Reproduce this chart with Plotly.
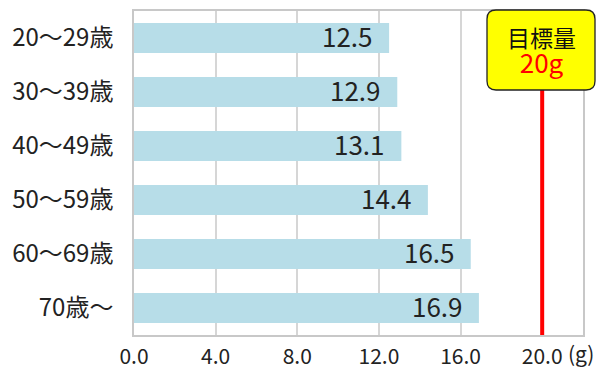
import plotly.graph_objects as go

# Daily salt intake by age group (g)
age_groups = ["20～29歳", "30～39歳", "40～49歳", "50～59歳", "60～69歳", "70歳～"]
intake = [12.5, 12.9, 13.1, 14.4, 16.5, 16.9]
x_ticks = [0, 4, 8, 12, 16, 20]
x_tick_labels = ["0.0", "4.0", "8.0", "12.0", "16.0", "20.0"]
target = 20
target_title = "目標量"
target_label = f"{target}g"
x_max = 22

W, H = 610, 369
M_L, M_R, M_T, M_B = 134, 27, 11, 34
PW, PH = W - M_L - M_R, H - M_T - M_B

JP = "Noto Sans CJK JP"
BAR = "#b7dde8"
GRID = "#d6d6d6"


def px_x(px):
    return (px - M_L) / PW


def px_y(py):
    return (H - M_B - py) / PH


fig = go.Figure()
fig.add_trace(go.Bar(
    y=age_groups, x=intake, orientation="h",
    marker=dict(color=BAR, line=dict(width=0)),
    width=0.56, hoverinfo="skip",
))

# value labels, right-aligned inside each bar
annotations = []
for g, v in zip(age_groups, intake):
    annotations.append(dict(
        x=v, y=g, xref="x", yref="y", text=f"{v:.1f}", showarrow=False,
        xanchor="right", yanchor="middle", xshift=-14, yshift=3,
        font=dict(family=JP, size=26, color="#222222"),
    ))

# rounded callout box for the target value
bx0, bx1 = 487, 595
by0, by1 = 10, 90
r = 9
rx, ry = r / PW, r / PH
x0, x1 = px_x(bx0), px_x(bx1)
y0, y1 = px_y(by1), px_y(by0)
path = (
    f"M {x0 + rx},{y1} L {x1 - rx},{y1} Q {x1},{y1} {x1},{y1 - ry} "
    f"L {x1},{y0 + ry} Q {x1},{y0} {x1 - rx},{y0} "
    f"L {x0 + rx},{y0} Q {x0},{y0} {x0},{y0 + ry} "
    f"L {x0},{y1 - ry} Q {x0},{y1} {x0 + rx},{y1} Z"
)

shapes = [
    dict(type="line", xref="x", yref="paper", x0=target, x1=target,
         y0=0, y1=y0, line=dict(color="#ff0000", width=4), layer="above"),
    dict(type="path", xref="paper", yref="paper", path=path,
         fillcolor="#ffff00", line=dict(color="#222222", width=1.3),
         layer="above"),
]

cx = px_x((bx0 + bx1) / 2)
callout_text = (
    f"<span style='font-size:23px'>{target_title}</span><br>"
    f"<span style='font-size:26px;color:#ff0000'>{target_label}</span>"
)
annotations += [
    dict(x=cx, y=px_y(50), xref="paper", yref="paper", text=callout_text,
         showarrow=False, xanchor="center", yanchor="middle",
         font=dict(family=JP, size=20, color="#111111")),
    dict(x=px_x(566), y=px_y(353), xref="paper", yref="paper", text="(g)",
         showarrow=False, xanchor="left", yanchor="middle",
         font=dict(family=JP, size=21, color="#222222")),
]

fig.update_layout(
    width=W, height=H,
    margin=dict(l=M_L, r=M_R, t=M_T, b=M_B, pad=0),
    paper_bgcolor="white", plot_bgcolor="white",
    showlegend=False, bargap=0.44,
    shapes=shapes, annotations=annotations,
    xaxis=dict(
        range=[0, x_max], tickvals=x_ticks, ticktext=x_tick_labels,
        showgrid=True, gridcolor=GRID, gridwidth=1.5,
        showline=True, linecolor="#c8c8c8", linewidth=1.5, mirror=True,
        ticks="", zeroline=False, ticklabelstandoff=2, automargin=False,
        tickfont=dict(family=JP, size=21, color="#222222"),
    ),
    yaxis=dict(
        categoryorder="array", categoryarray=age_groups, autorange="reversed",
        showgrid=False, showline=True, linecolor="#c8c8c8", linewidth=1.5,
        mirror=True, ticks="", ticklabelstandoff=14, automargin=False,
        tickfont=dict(family=JP, size=24, color="#222222"),
    ),
)

fig.write_html("out.html")
